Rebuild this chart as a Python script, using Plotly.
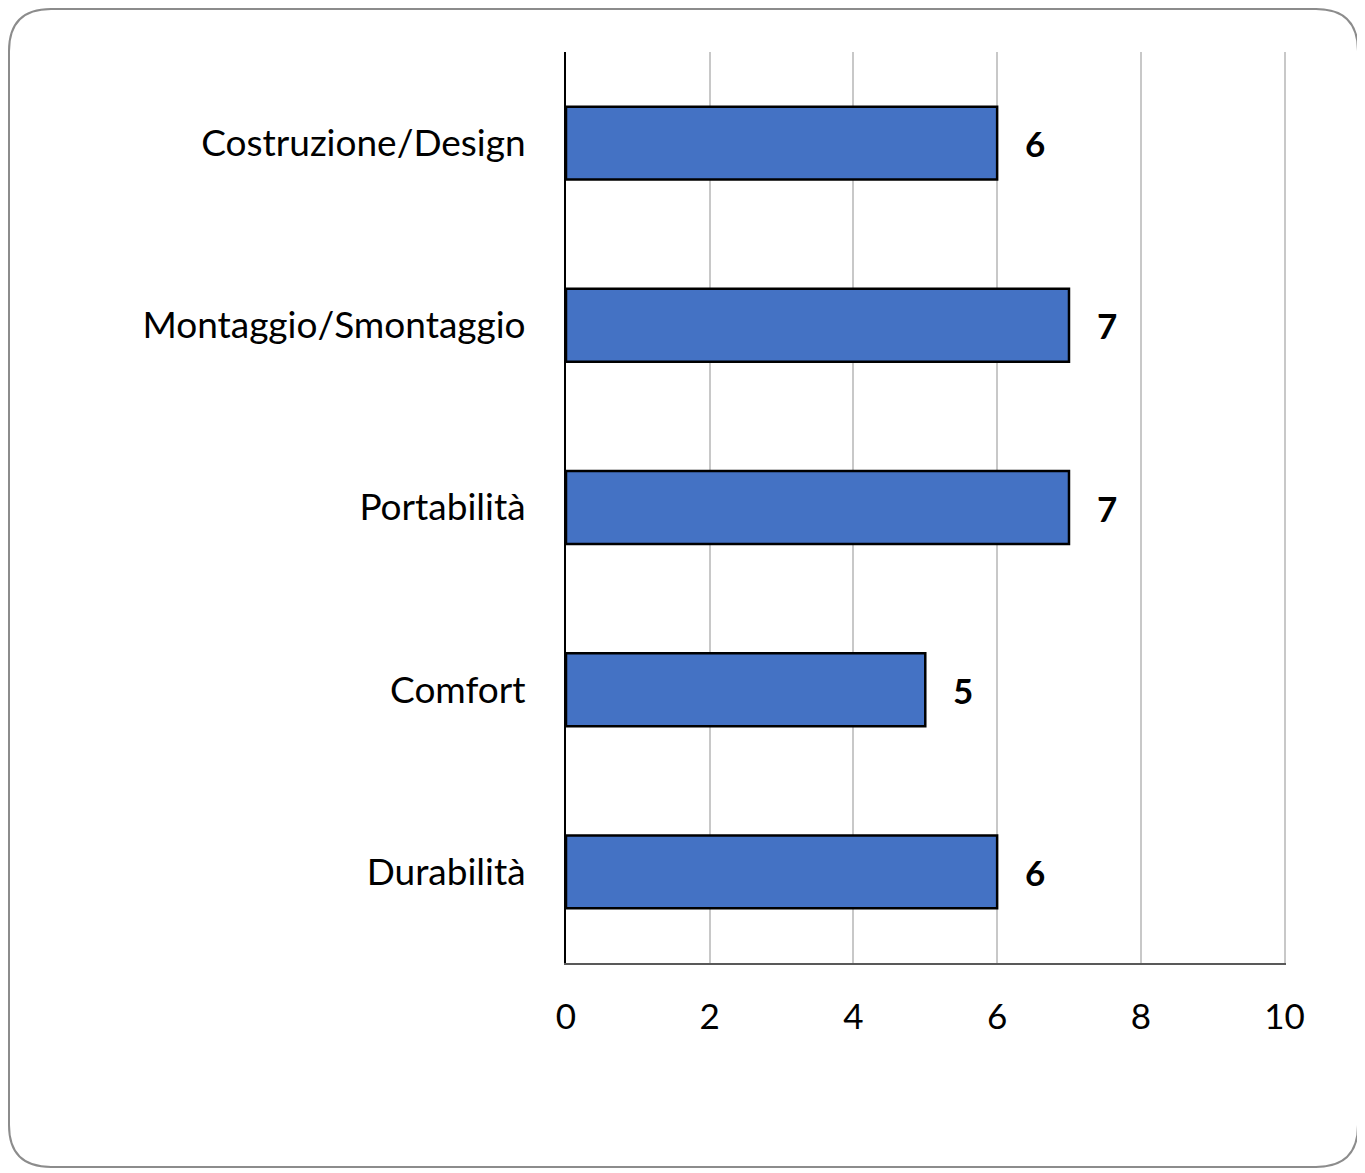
import plotly.graph_objects as go

categories = ["Costruzione/Design", "Montaggio/Smontaggio", "Portabilità", "Comfort", "Durabilità"]
values = [6, 7, 7, 5, 6]
x_ticks = [0, 2, 4, 6, 8, 10]

OFF = 8  # page body margin
W, H = 1365 - OFF, 1173 - OFF
L, T = 566 - OFF, 52 - OFF
R = W - (1286 - OFF)
B = H - (963 - OFF)
pw, ph = W - L - R, H - T - B

FONT = "Lato"

fig = go.Figure()
fig.add_trace(go.Bar(
    x=values, y=categories, orientation="h",
    marker=dict(color="#4472C4", line=dict(color="#000000", width=2.5)),
    width=0.4, hoverinfo="skip",
))

for c, v in zip(categories, values):
    fig.add_annotation(x=v, y=c, text=f"<b>{v}</b>", showarrow=False,
                       xanchor="left", xshift=26, yshift=0,
                       font=dict(family=FONT, size=35, color="#000000"))

# rounded border in page pixel coords converted to paper coords
def px(x):
    return (x - OFF - L) / pw

def py(y):
    return (H - B - (y - OFF)) / ph

x0, x1, y0, y1, r = 4, 1358, 2, 1167, 42
x0, y0 = max(x0, OFF + 1), max(y0, OFF + 1)
path = (f"M {px(x0 + r)},{py(y0)} L {px(x1 - r)},{py(y0)} "
        f"Q {px(x1)},{py(y0)} {px(x1)},{py(y0 + r)} "
        f"L {px(x1)},{py(y1 - r)} Q {px(x1)},{py(y1)} {px(x1 - r)},{py(y1)} "
        f"L {px(x0 + r)},{py(y1)} Q {px(x0)},{py(y1)} {px(x0)},{py(y1 - r)} "
        f"L {px(x0)},{py(y0 + r)} Q {px(x0)},{py(y0)} {px(x0 + r)},{py(y0)} Z")
fig.add_shape(type="path", xref="paper", yref="paper", path=path,
              line=dict(color="#8C8C8C", width=2), layer="below")

fig.update_layout(
    width=W, height=H,
    margin=dict(l=L, r=R, t=T, b=B),
    paper_bgcolor="white", plot_bgcolor="white",
    showlegend=False,
    font=dict(family=FONT, size=36, color="#000000"),
    bargap=0.6,
)
fig.update_xaxes(
    range=[0, 10.02], tickvals=x_ticks, ticktext=[str(t) for t in x_ticks],
    showgrid=True, gridcolor="#C8C8C8", gridwidth=1.5,
    showline=True, linecolor="#595959", linewidth=2,
    zeroline=False, ticks="", ticklabelstandoff=22,
    tickfont=dict(family=FONT, size=35, color="#000000"), fixedrange=True,
)
fig.update_yaxes(
    categoryorder="array", categoryarray=categories, autorange="reversed",
    showgrid=False, showline=True, linecolor="#000000", linewidth=2,
    ticks="", ticklabelstandoff=31,
    tickfont=dict(family=FONT, size=37, color="#000000"), fixedrange=True,
)

fig.write_html("out.html")
